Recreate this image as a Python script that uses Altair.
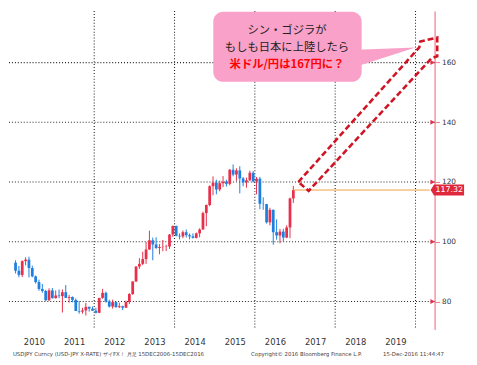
import altair as alt
import pandas as pd

# ---------------- data (monthly USD/JPY candles, Jan 2010 - Dec 2016) ----------------
months = [f"{y}-{m:02d}" for y in range(2010, 2017) for m in range(1, 13)]

opens = [
    93.0, 90.3, 88.9, 93.5, 94.0, 91.2, 88.4, 86.5, 84.2, 83.5, 80.4, 83.7,
    81.1, 82.0, 81.8, 83.1, 81.2, 81.5, 80.5, 76.8, 76.6, 77.0, 78.2, 77.6,
    76.9, 76.2, 81.2, 82.9, 80.0, 78.3, 79.8, 78.1, 78.4, 77.9, 79.8, 82.5,
    86.7, 91.7, 92.6, 94.2, 97.4, 100.5, 99.1, 97.9, 98.2, 98.3, 98.4, 102.4,
    105.3, 102.0, 101.8, 103.2, 102.2, 101.8, 101.3, 102.8, 104.1, 109.6, 112.3, 118.6,
    119.8, 117.5, 119.6, 120.1, 119.4, 124.1, 122.5, 123.9, 121.2, 119.9, 120.6, 123.1,
    120.2, 121.1, 112.7, 112.6, 106.5, 110.7, 103.2, 102.1, 103.4, 101.4, 104.8, 114.5,
]
highs = [
    93.8, 91.9, 93.8, 94.8, 95.0, 92.0, 88.7, 87.3, 85.9, 83.9, 84.4, 84.5,
    83.7, 84.0, 84.0, 85.5, 82.2, 81.7, 81.0, 80.2, 77.9, 79.5, 78.3, 78.3,
    77.9, 81.2, 84.2, 83.3, 80.6, 80.6, 79.9, 79.6, 78.6, 80.3, 82.8, 86.8,
    91.8, 94.5, 96.7, 99.9, 103.7, 101.4, 101.5, 99.2, 100.6, 99.0, 102.6, 105.4,
    105.4, 102.8, 103.8, 104.1, 102.8, 102.8, 103.1, 104.5, 110.1, 112.5, 118.9, 121.9,
    120.8, 120.5, 122.0, 120.8, 124.4, 125.9, 124.6, 125.3, 121.7, 121.5, 123.8, 123.7,
    121.7, 121.7, 114.9, 112.7, 111.4, 110.8, 107.5, 104.3, 104.3, 105.5, 114.8, 118.7,
]
lows = [
    89.4, 88.1, 88.2, 92.1, 88.1, 88.1, 86.0, 83.6, 82.9, 80.2, 80.2, 81.0,
    81.0, 81.1, 76.3, 81.2, 79.6, 79.7, 76.8, 75.9, 75.9, 75.3, 76.6, 76.9,
    76.0, 76.1, 80.9, 79.6, 78.0, 77.6, 77.9, 77.8, 77.1, 77.9, 79.1, 82.2,
    86.5, 90.9, 92.2, 92.6, 97.3, 93.8, 97.6, 95.8, 96.8, 96.9, 97.6, 101.6,
    101.8, 100.8, 101.2, 101.4, 100.8, 101.1, 101.1, 101.5, 104.1, 105.2, 111.9, 115.6,
    115.9, 116.9, 118.3, 118.5, 118.9, 121.9, 120.4, 116.2, 118.6, 118.1, 120.3, 119.9,
    115.9, 110.9, 110.7, 106.1, 105.5, 99.0, 100.7, 99.5, 100.1, 101.2, 101.2, 113.0,
]
closes = [
    90.3, 88.9, 93.5, 94.0, 91.2, 88.4, 86.5, 84.2, 83.5, 80.4, 83.7, 81.1,
    82.0, 81.8, 83.1, 81.2, 81.5, 80.5, 76.8, 76.6, 77.0, 78.2, 77.6, 76.9,
    76.2, 81.2, 82.9, 80.0, 78.3, 79.8, 78.1, 78.4, 77.9, 79.8, 82.5, 86.7,
    91.7, 92.6, 94.2, 97.4, 100.5, 99.1, 97.9, 98.2, 98.3, 98.4, 102.4, 105.3,
    102.0, 101.8, 103.2, 102.2, 101.8, 101.3, 102.8, 104.1, 109.6, 112.3, 118.6, 119.8,
    117.5, 119.6, 120.1, 119.4, 124.1, 122.5, 123.9, 121.2, 119.9, 120.6, 123.1, 120.2,
    121.1, 112.7, 112.6, 106.5, 110.7, 103.2, 102.1, 103.4, 101.4, 104.8, 114.5, 117.32,
]

last_price = 117.32
last_label = "117.32"
year_labels = list(range(2010, 2020))
grid_years = [2012, 2014, 2016, 2018, 2020]
grid_values = [80, 100, 120, 140, 160]
tick_values = [80, 90, 100, 110, 120, 130, 140, 150, 160, 170]

callout_lines = ["シン・ゴジラが", "もしも日本に上陸したら", "米ドル/円は167円に？"]

# arrow outline (year, value) and its drawing order
arrow_x = [2017.082, 2020.094, 2020.118, 2020.541, 2020.541, 2020.400, 2017.341, 2017.082]
arrow_y = [120.0, 165.10, 167.08, 168.40, 162.14, 161.48, 117.04, 120.0]

footer_left = "USDJPY Curncy (USD-JPY X-RATE) ザイFX！ 月足 15DEC2006-15DEC2016"
footer_mid = "Copyright© 2016 Bloomberg Finance L.P."
footer_right = "15-Dec-2016 11:44:47"

# ---------------- scales ----------------
X_MIN, X_MAX = 2009.976, 2020.353
Y_MIN, Y_MAX = 70.62, 177.28
xs = alt.Scale(domain=[X_MIN, X_MAX], nice=False, zero=False)
ys = alt.Scale(domain=[Y_MIN, Y_MAX], nice=False, zero=False)

RED = "#e8304a"
BLUE = "#1f7fe0"
PINK_AXIS = "#f07a8c"
GRID = "#222222"

candles = pd.DataFrame({
    "ym": months, "open": opens, "high": highs, "low": lows, "close": closes,
})
candles["t"] = [int(s[:4]) + (int(s[5:]) - 0.5) / 12 for s in months]
candles["dir"] = ["up" if c >= o else "down" for o, c in zip(opens, closes)]

color = alt.Color("dir:N", scale=alt.Scale(domain=["up", "down"], range=[RED, BLUE]), legend=None)

base = alt.Chart(candles)

wicks = base.mark_rule(strokeWidth=1).encode(
    x=alt.X("t:Q", scale=xs,
            axis=alt.Axis(values=[y + 0.5 for y in year_labels],
                          labelExpr="'' + floor(datum.value)",
                          domain=False, ticks=False, tickSize=0, grid=False,
                          labelFont="DejaVu Sans", labelFontSize=8.5, labelColor="#333",
                          labelPadding=8, title=None)),
    y=alt.Y("low:Q", scale=ys,
            axis=alt.Axis(orient="right", values=tick_values,
                          labelExpr="datum.value % 20 == 0 ? datum.label : ''",
                          domain=True, domainColor=PINK_AXIS, domainWidth=1.2,
                          ticks=True, tickColor=PINK_AXIS, tickSize=5,
                          grid=False, labelFont="DejaVu Sans", labelFontSize=7.5,
                          labelColor="#333", labelPadding=2, title=None)),
    y2="high:Q",
    color=color,
)

bodies = base.mark_bar(size=2.8).encode(
    x=alt.X("t:Q", scale=xs),
    y=alt.Y("open:Q", scale=ys),
    y2="close:Q",
    color=color,
)

hgrid = alt.Chart(pd.DataFrame({"v": grid_values})).mark_rule(
    color=GRID, strokeDash=[1, 2], strokeWidth=1.1
).encode(y=alt.Y("v:Q", scale=ys))

vgrid = alt.Chart(pd.DataFrame({"g": grid_years})).mark_rule(
    color=GRID, strokeDash=[1, 2], strokeWidth=1.1
).encode(x=alt.X("g:Q", scale=xs))

last_line = alt.Chart(pd.DataFrame({"x1": [candles["t"].iloc[-1]], "x2": [X_MAX], "v": [last_price]})).mark_rule(
    color="#f0a040", strokeWidth=1
).encode(x=alt.X("x1:Q", scale=xs), x2="x2:Q", y=alt.Y("v:Q", scale=ys))

# callout
box = alt.Chart(pd.DataFrame({"x1": [2014.965], "x2": [2018.659], "y1": [153.58], "y2": [177.0]})).mark_rect(
    color="#f9a1c8", cornerRadius=10
).encode(x=alt.X("x1:Q", scale=xs), x2="x2:Q", y=alt.Y("y1:Q", scale=ys), y2="y2:Q")

tail = alt.Chart(pd.DataFrame({"x": [2018.55, 2020.0], "lo": [158.8, 165.1], "hi": [164.3, 165.1]})).mark_area(
    color="#f9a1c8"
).encode(x=alt.X("x:Q", scale=xs), y=alt.Y("lo:Q", scale=ys), y2="hi:Q")

txt_df = pd.DataFrame({"x": [2016.8] * 3, "y": [170.7, 164.94, 159.18], "s": callout_lines})
txt12 = alt.Chart(txt_df.iloc[:2]).mark_text(
    font="Noto Sans CJK JP", fontSize=11.5, color="#222", align="center", baseline="middle"
).encode(x=alt.X("x:Q", scale=xs), y=alt.Y("y:Q", scale=ys), text="s:N")
txt3 = alt.Chart(txt_df.iloc[2:]).mark_text(
    font="Noto Sans CJK JP", fontSize=11.5, fontWeight="bold", color="#ff0000", align="center", baseline="middle"
).encode(x=alt.X("x:Q", scale=xs), y=alt.Y("y:Q", scale=ys), text="s:N")

arrow = alt.Chart(pd.DataFrame({"x": arrow_x, "y": arrow_y, "o": list(range(len(arrow_x)))})).mark_line(
    color="#d01424", strokeDash=[6, 3], strokeWidth=2.6
).encode(x=alt.X("x:Q", scale=xs), y=alt.Y("y:Q", scale=ys), order="o:Q")

# axis triangle markers
tri = alt.Chart(pd.DataFrame({"x": [X_MAX] * len(grid_values), "v": grid_values})).mark_point(
    shape="triangle-right", size=26, filled=True, color=RED, opacity=1, xOffset=3
).encode(x=alt.X("x:Q", scale=xs), y=alt.Y("v:Q", scale=ys))

price_box = alt.Chart(pd.DataFrame({"x": [X_MAX], "v": [last_price]})).mark_point(
    shape="M -1 0 L -0.8 -0.33 L 1 -0.33 L 1 0.33 L -0.8 0.33 Z",
    size=1156, filled=True, color="#e0283c", opacity=1, xOffset=18
).encode(x=alt.X("x:Q", scale=xs), y=alt.Y("v:Q", scale=ys))

price_txt = alt.Chart(pd.DataFrame({"x": [X_MAX], "v": [last_price], "s": [last_label]})).mark_text(
    font="DejaVu Sans", fontSize=8, color="white", align="center", baseline="middle", dx=20
).encode(x=alt.X("x:Q", scale=xs), y=alt.Y("v:Q", scale=ys), text="s:N")

# footer
foot_df = pd.DataFrame({
    "x": [2009.976, 2015.906, 2020.706],
    "v": [62.4, 62.4, 62.4],
    "s": [footer_left, footer_mid, footer_right],
})
foot_l = alt.Chart(foot_df.iloc[:2]).mark_text(
    font="DejaVu Sans", fontSize=5.5, color="#444", align="left", baseline="middle"
).encode(x=alt.X("x:Q", scale=xs), y=alt.Y("v:Q", scale=ys), text="s:N")
foot_r = alt.Chart(foot_df.iloc[2:]).mark_text(
    font="DejaVu Sans", fontSize=5.5, color="#444", align="right", baseline="middle"
).encode(x=alt.X("x:Q", scale=xs), y=alt.Y("v:Q", scale=ys), text="s:N")

chart = alt.layer(
    hgrid, vgrid, wicks, bodies, last_line, box, tail, txt12, txt3, arrow,
    tri, price_box, price_txt, foot_l, foot_r
).properties(
    width=434, height=324,
    autosize=alt.AutoSizeParams(type="none"),
    padding={"left": 0, "top": 0, "right": 35, "bottom": 29},
    background="white",
).configure_view(stroke=None)

chart.save("out.html", embed_options={"renderer": "svg", "actions": False})
